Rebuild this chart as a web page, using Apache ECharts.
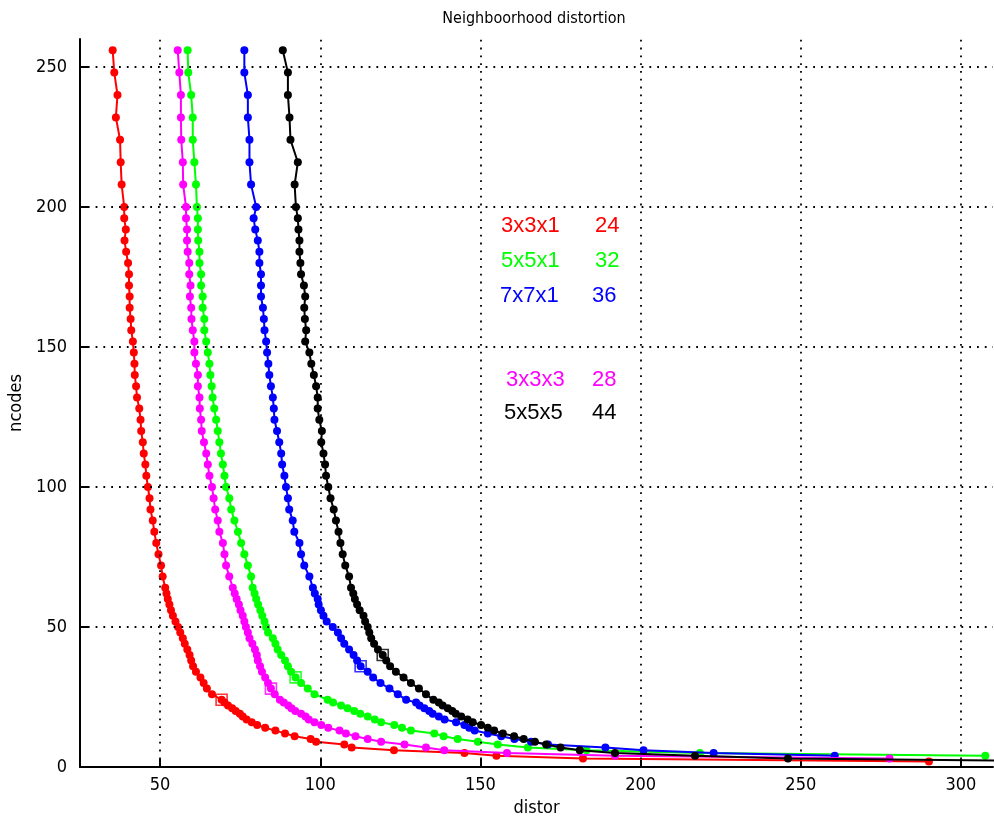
<!DOCTYPE html>
<html>
<head>
<meta charset="utf-8">
<script src="https://cdn.jsdelivr.net/npm/echarts@6/dist/echarts.min.js"></script>
<style>
html,body{margin:0;padding:0;background:#fff;}
#chart{width:994px;height:819px;}
</style>
</head>
<body>
<div id="chart"></div>
<script>
// ---- data ----
const ncodes = [256,248,240,232,224,216,208,200,
  196,192,188,184,180,176,172,168,164,160,156,152,148,144,140,136,132,128,124,120,116,112,108,104,100,96,92,88,84,80,76,72,68,64,
  62,60,58,56,54,52,50,48,46,44,42,40,38,36,34,32,30,28,26,
  24,23,22,21,20,19,18,17,16,15,14,13,12,11,10,9,8,7,6,5,4,3,2];

const distRed = [35.2,35.7,36.7,36.2,37.5,37.7,38.0,38.8,
  38.8,39.3,38.9,39.4,40.0,40.3,40.3,40.5,40.5,40.8,41.0,41.5,41.8,42.0,42.1,42.5,42.8,43.5,43.9,44.1,44.6,44.9,45.4,45.7,46.2,46.7,47.0,47.7,48.2,48.8,49.5,50.3,50.8,51.6,
  52.0,52.4,52.9,53.4,54.0,54.8,55.6,56.3,57.1,57.7,58.5,59.2,59.7,60.3,61.2,62.6,63.6,64.6,66.2,
  69.2,70.1,71.2,72.5,73.6,74.9,75.8,77.0,78.6,80.3,82.8,86.0,89.0,92.0,97.0,98.7,107.5,109.8,123.0,145.0,155.0,182.0,290.0];

const distGreen = [58.6,58.8,59.7,60.2,60.2,60.7,61.2,61.5,
  61.8,61.8,61.9,62.3,62.3,62.8,62.8,63.3,63.3,63.8,63.8,64.4,64.9,65.4,65.7,66.1,66.4,66.9,67.5,68.0,68.5,69.0,69.6,70.1,70.6,71.6,72.2,73.2,74.3,75.3,76.3,77.4,78.4,78.9,
  79.5,80.0,80.6,81.3,81.9,82.6,83.1,83.7,85.2,86.0,86.7,87.8,89.0,89.9,90.9,92.3,94.0,96.1,98.2,
  102.3,104.0,106.5,108.5,110.6,112.5,114.8,117.0,119.0,123.1,125.5,128.3,135.6,138.5,142.9,149.2,155.4,164.8,183.1,218.5,307.6,null,null];

const distBlue = [76.3,76.3,77.4,77.4,77.9,77.9,78.4,80.0,
  79.2,79.7,80.5,81.0,81.0,81.5,81.5,81.5,82.1,82.4,82.6,83.1,83.4,83.8,84.1,84.6,85.2,85.5,85.7,86.5,87.2,87.8,88.1,88.8,89.3,89.9,90.3,91.4,91.9,93.5,94.0,95.0,96.6,97.7,
  98.3,99.2,99.5,100.2,101.0,102.0,103.9,105.5,106.5,107.5,109.0,110.4,111.5,112.6,114.8,116.5,118.8,121.6,124.2,
  126.8,129.9,131.0,132.5,134.0,135.1,137.0,138.8,142.4,145.0,146.5,148.2,152.3,156.5,160.6,165.8,171.1,189.0,200.9,222.8,260.6,null,null];

const distMagenta = [55.5,56.0,56.5,56.5,56.6,57.1,57.2,58.1,
  58.1,58.4,58.4,58.6,59.1,59.1,59.5,59.3,59.7,59.8,60.2,60.7,60.7,61.2,61.8,61.8,62.3,62.4,62.8,63.0,63.7,64.4,64.9,65.4,66.2,66.7,67.2,68.0,68.5,69.6,70.1,70.6,71.6,72.7,
  73.3,73.9,74.6,75.1,75.8,76.3,76.8,77.4,77.9,78.8,79.6,80.2,80.5,81.2,81.8,82.8,83.7,84.6,85.8,
  87.4,88.6,90.0,91.0,92.2,94.0,95.4,96.4,98.2,100.3,102.5,106.0,108.0,111.0,114.8,119.0,126.3,133.0,138.7,158.3,192.0,277.7,null];

const distBlack = [88.3,89.9,89.9,90.4,90.7,93.0,92.0,92.4,
  93.0,93.2,93.5,93.5,93.8,94.0,94.9,95.3,95.0,95.2,95.6,95.3,96.6,97.2,98.0,98.7,99.2,99.2,99.7,100.5,100.3,101.0,101.5,101.8,102.5,103.2,104.2,104.9,105.7,106.3,107.0,107.8,109.0,109.6,
  110.3,110.8,111.5,112.3,113.5,114.0,114.8,115.3,115.9,116.8,118.0,119.5,120.6,121.8,123.6,126.0,128.3,130.8,133.0,
  135.3,137.0,138.2,139.8,141.2,142.3,144.0,146.0,147.6,150.2,152.3,154.3,157.0,160.5,163.5,167.0,170.5,175.0,181.0,192.0,217.0,246.0,340.0];

// highlighted points (ncodes) and annotation table
const seriesNames = ['3x3x1','5x5x1','7x7x1','3x3x3','5x5x5'];
const labelNums = ['24','32','36','28','44'];
const squareN = [24,32,36,28,40];
const colors = ['#ff0000','#00ff00','#0000ff','#ff00ff','#000000'];
const xTicks = [50,100,150,200,250,300];
const yTicks = [0,50,100,150,200,250];

const allDist = [distRed, distGreen, distBlue, distMagenta, distBlack];

const FONT = "'DejaVu Sans Condensed','DejaVu Sans',sans-serif";

const chart = echarts.init(document.getElementById('chart'), null, {renderer:'canvas'});

const series = [];
// grid lines (dotted)
series.push({
  type:'line', data:[], silent:true, z:1,
  markLine:{
    silent:true, symbol:['none','none'], animation:false,
    label:{show:false},
    lineStyle:{color:'#000', width:1.8, type:[1.8,6]},
    data: xTicks.map(v=>({xAxis:v})).concat(yTicks.filter(v=>v>0).map(v=>({yAxis:v})))
  }
});
allDist.forEach((d,i)=>{
  const pts = [];
  ncodes.forEach((n,j)=>{ if(d[j]!==null && d[j]!==undefined) pts.push([d[j], n]); });
  series.push({
    name: seriesNames[i], type:'line', data: pts, z: 3+i,
    symbol:'circle', symbolSize:8, showSymbol:true,
    lineStyle:{color:colors[i], width:2},
    itemStyle:{color:colors[i]},
    clip:true, animation:false
  });
  const k = ncodes.indexOf(squareN[i]);
  series.push({
    type:'scatter', data:[[d[k], squareN[i]]], z: 10+i,
    symbol:'rect', symbolSize:11,
    itemStyle:{color:'rgba(0,0,0,0)', borderColor:colors[i], borderWidth:1.6},
    animation:false
  });
});

chart.setOption({
  animation:false,
  grid:{left:80, right:1, top:39, bottom:52, containLabel:false, outerBoundsMode:'none'},
  xAxis:{type:'value', min:25, max:310,
    name:'distor', nameLocation:'middle', nameGap:28,
    nameTextStyle:{fontFamily:FONT, fontSize:18, color:'#000'},
    axisLine:{show:true, onZero:false, lineStyle:{color:'#000', width:2}},
    axisTick:{show:true, inside:true, length:8, customValues:xTicks, lineStyle:{color:'#000', width:2}},
    axisLabel:{customValues:xTicks, fontFamily:FONT, fontSize:18, color:'#000', margin:9},
    splitLine:{show:false}},
  yAxis:{type:'value', min:0, max:260,
    name:'ncodes', nameLocation:'middle', nameGap:53, nameRotate:90,
    nameTextStyle:{fontFamily:FONT, fontSize:18, color:'#000'},
    axisLine:{show:true, onZero:false, lineStyle:{color:'#000', width:2}},
    axisTick:{show:true, inside:true, length:8, customValues:yTicks, lineStyle:{color:'#000', width:2}},
    axisLabel:{customValues:yTicks, fontFamily:FONT, fontSize:18, color:'#000', margin:13},
    splitLine:{show:false}},
  series: series
});

// title and annotation table
const g = [{type:'text', x:534, y:19, style:{text:'Neighboorhood distortion', fill:'#000',
  font:"16px 'DejaVu Sans Condensed','DejaVu Sans',sans-serif", textAlign:'center', textVerticalAlign:'middle'}}];
const rowsY = [226, 261, 296, 380, 413];
const rowsX = [501, 501, 500, 506, 504];
const numX = [595, 595, 592, 592, 592];
seriesNames.forEach((s,i)=>{
  g.push({type:'text', x:rowsX[i], y:rowsY[i], style:{text:s, fill:colors[i], font:"22px 'Liberation Sans',Arial,sans-serif", textVerticalAlign:'middle'}});
  g.push({type:'text', x:numX[i], y:rowsY[i], style:{text:labelNums[i], fill:colors[i], font:"22px 'Liberation Sans',Arial,sans-serif", textVerticalAlign:'middle'}});
});
chart.setOption({graphic:g});
</script>
</body>
</html>
